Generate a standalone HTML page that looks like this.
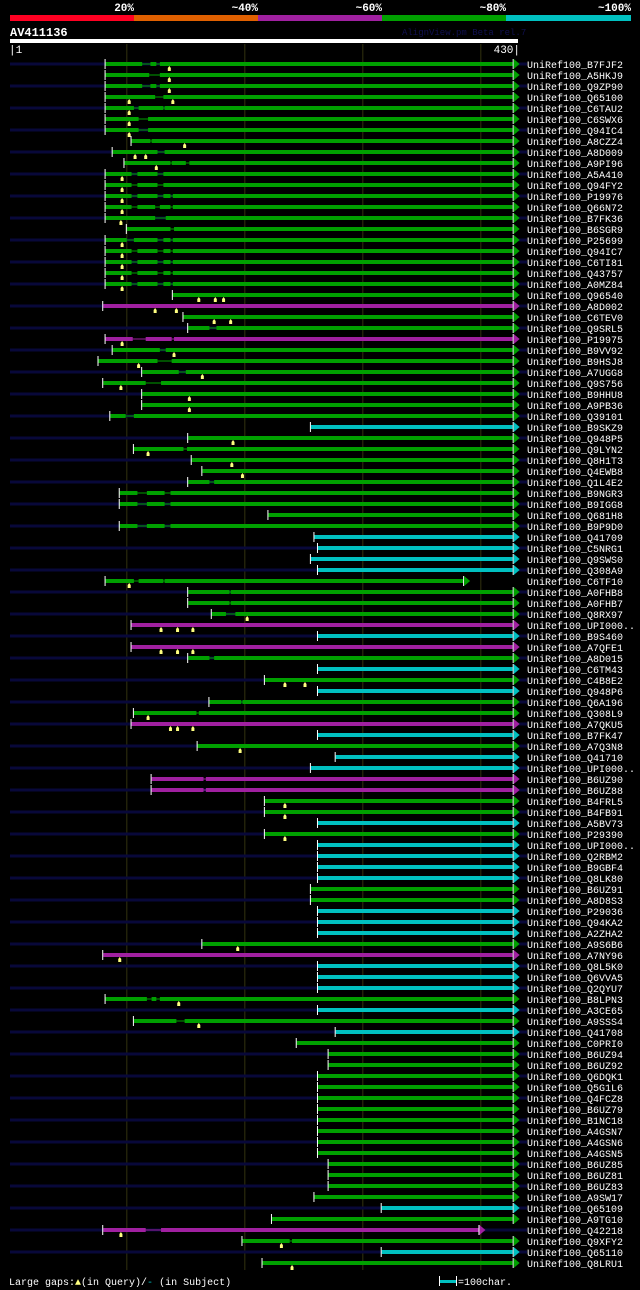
<!DOCTYPE html>
<html><head><meta charset="utf-8">
<style>
html,body{margin:0;padding:0;background:#000;}
svg{display:block;}
text{font-family:"Liberation Mono",monospace;}
</style></head>
<body>
<svg id="chart" width="640" height="1290" viewBox="0 0 640 1290" xmlns="http://www.w3.org/2000/svg">
<rect x="0" y="0" width="640" height="1290" fill="#000"/>
<g>
<rect x="10" y="15" width="124" height="6" fill="#ff0022"/>
<rect x="134" y="15" width="124" height="6" fill="#e06000"/>
<rect x="258" y="15" width="124" height="6" fill="#a020a0"/>
<rect x="382" y="15" width="124" height="6" fill="#00a000"/>
<rect x="506" y="15" width="125" height="6" fill="#00c0c0"/>
<g font-size="11" font-weight="bold" fill="#fff" text-anchor="end">
<text x="134" y="11">20%</text>
<text x="258" y="11">~40%</text>
<text x="382" y="11">~60%</text>
<text x="506" y="11">~80%</text>
<text x="631" y="11">~100%</text>
</g>
</g>
<text x="10" y="36" font-size="12" font-weight="bold" fill="#fff">AV411136</text>
<text x="402" y="35" font-size="9" fill="#101050">AlignView.pm Beta rel.7</text>
<rect x="10" y="39" width="508" height="4" fill="#fff"/>
<text x="9" y="53" font-size="11" fill="#fff">|1</text>
<text x="520" y="53" font-size="11" fill="#fff" text-anchor="end">430|</text>
<g id="grid"></g>
<g id="rows"></g>
<text x="9" y="1285" font-size="10" fill="#fff">Large gaps:<tspan fill="#ffff80">▲</tspan>(in Query)/<tspan fill="#00c0c0">-</tspan> (in Subject)</text>
<g>
<rect x="439" y="1280" width="17" height="3" fill="#00c0c0"/>
<rect x="439" y="1276" width="1" height="10" fill="#fff"/>
<rect x="456" y="1276" width="1" height="10" fill="#fff"/>
<text x="458" y="1285" font-size="10" fill="#fff">=100char.</text>
</g>
</svg>
<script>
const labels=["B7FJF2","A5HKJ9","Q9ZP90","Q65100","C6TAU2","C6SWX6","Q94IC4","A8CZZ4","A8D009","A9PI96","A5A410","Q94FY2","P19976","Q66N72","B7FK36","B6SGR9","P25699","Q94IC7","C6TI81","Q43757","A0MZ84","Q96540","A8D002","C6TEV0","Q9SRL5","P19975","B9VV92","B9HSJ8","A7UGG8","Q9S756","B9HHU8","A9PB36","Q39101","B9SKZ9","Q948P5","Q9LYN2","Q8H1T3","Q4EWB8","Q1L4E2","B9NGR3","B9IGG8","Q681H8","B9P9D0","Q41709","C5NRG1","Q9SWS0","Q308A9","C6TF10","A0FHB8","A0FHB7","Q8RX97","UPI000..","B9S460","A7QFE1","A8D015","C6TM43","C4B8E2","Q948P6","Q6A196","Q308L9","A7QKU5","B7FK47","A7Q3N8","Q41710","UPI000..","B6UZ90","B6UZ88","B4FRL5","B4FB91","A5BV73","P29390","UPI000..","Q2RBM2","B9GBF4","Q8LK80","B6UZ91","A8D8S3","P29036","Q94KA2","A2ZHA2","A9S6B6","A7NY96","Q8L5K0","Q6VVA5","Q2QYU7","B8LPN3","A3CE65","A9SSS4","Q41708","C0PRI0","B6UZ94","B6UZ92","Q6DQK1","Q5G1L6","Q4FCZ8","B6UZ79","B1NC18","A4GSN7","A4GSN6","A4GSN5","B6UZ85","B6UZ81","B6UZ83","A9SW17","Q65109","A9TG10","Q42218","Q9XFY2","Q65110","Q8LRU1"];
const starts=[82,82,82,82,82,82,82,104,88,98,82,82,82,82,82,100,82,82,82,82,82,139,80,148,152,82,88,76,113,80,113,113,86,256,152,106,155,164,152,94,94,220,94,259,262,256,262,82,152,152,172,104,262,104,152,262,217,262,170,106,104,262,160,277,256,121,121,217,217,262,217,262,262,262,262,256,256,262,262,262,164,80,262,262,262,82,262,106,277,244,271,271,262,262,262,262,262,262,262,262,271,271,271,259,316,223,80,198,316,215];
const ends=labels.map((_,i)=>i===47?385:(i===106?398:427));
const colors=[
 "gggggggggggggggggggggg",
 "mggm","ggggggg","c",
 "ggggggggg","cccc","gggg",
 "mcmgcgcggmcgccmmggcg",
 "cccc","gg","ccc","gm","ccc","gcgc",
 "ggggggggggggggg","cgmgcg"
].join("").split("");
const gaps=[[[113,120],[125,128]],[[119,128]],[[113,120],[125,128]],[[124,131]],[[106,110],[131,132]],[[110,118]],[[110,118]],[[120,121]],[[126,132]],[[137,138],[150,153]],[[104,109],[126,131]],[[104,109],[126,131]],[[104,109],[126,131],[137,139]],[[104,109],[124,128],[137,139]],[[124,133]],[[137,140]],[[100,106],[126,131],[137,139]],[[104,109],[126,131],[137,139]],[[104,109],[126,131],[137,139]],[[104,109],[126,131],[137,139]],[[104,109],[126,131],[137,139]],[],[],[],[[170,176]],[[105,116],[138,140]],[[128,133]],[[126,138]],[[144,150]],[[116,129]],[],[],[[99,106]],[],[],[[148,151]],[],[],[[170,174]],[[109,117],[132,137]],[[109,117],[132,137]],[],[[109,117],[132,137]],[],[],[],[],[[106,110],[131,132]],[[187,188]],[[187,188]],[[184,192]],[],[],[],[[170,174]],[],[],[],[[197,198]],[[159,161]],[],[],[],[],[],[[165,167]],[[165,167]],[],[],[],[],[],[],[],[],[],[],[],[],[],[],[],[],[],[],[[117,121],[125,128]],[],[[142,149]],
[],[],[],[],[],[],[],[],[],[],[],[],[],[],[],[],[],[],
[[116,129]],[[238,240]],[],[]];
const tris=[[136],[136],[136],[102,139],[102],[102],[102],[149],[107,116],[125],[96],[96],[96],[96],[95],[],[96],[96],[96],[96],[96],[161,175,182],[124,142],[174,188],[],[96],[140],[110],[164],[95],[153],[153],[],[],[190],[118],[189],[198],[],[],[],[],[],[],[],[],[],[102],[],[],[202],[129,143,156],[],[129,143,156],[],[],[234,251],[],[],[118],[137,143,156],[],[196],[],[],[],[],[234],[234],[],[234],[],[],[],[],[],[],[],[],[],[194],[94],[],[],[],[144],[],[161],[],[],[],[],[],[],[],[],[],[],[],[],[],[],[],[],[],[],[95],[231],[],[240]];
const gridTicks=[100,200,300,400];

const NS="http://www.w3.org/2000/svg";
const X=p=>10+(p-1)*1.18;
const Y=i=>64+i*11;
const COL={g:"#00a000",c:"#00c0c0",m:"#a020a0"};
function mk(tag,attrs,parent){const e=document.createElementNS(NS,tag);for(const k in attrs)e.setAttribute(k,attrs[k]);parent.appendChild(e);return e;}
const grid=document.getElementById("grid"),rows=document.getElementById("rows");
gridTicks.forEach(t=>{
  const l=mk("rect",{x:X(t)-0.5,y:44,width:1,height:1226,fill:"#333310"},grid);
  
  
});
labels.forEach((lab,i)=>{
  const y=Y(i);
  const g=mk("g",{},rows);
  
  
  if(i%2===0){const n=mk("rect",{x:10,y:y-1.5,width:517,height:3,fill:"#08083a"},g);
    
    }
  const c=COL[colors[i]]||COL.g;
  const x0=X(starts[i]),x1=X(ends[i]);
  mk("rect",{x:x0,y:y-0.5,width:x1-x0,height:1,fill:c},g);
  let segs=[],cur=starts[i];
  (gaps[i]||[]).forEach(gp=>{if(gp[0]>cur){segs.push([cur,gp[0]]);cur=gp[1];}});
  segs.push([cur,ends[i]]);
  segs.forEach(s=>{const r=mk("rect",{x:X(s[0]),y:y-2,width:Math.max(0,X(s[1])-X(s[0])),height:4,fill:c},g);
    
    });
  const st=mk("rect",{x:x0-1,y:y-5,width:1,height:10,fill:"#fff"},g);
  
  
  mk("rect",{x:x1,y:y-5,width:1,height:10,fill:"#fff"},g);
  const ar=mk("polygon",{points:`${x1+1},${y-5} ${x1+7},${y} ${x1+1},${y+5}`,fill:c},g);
  
  
  (tris[i]||[]).forEach(t=>{const tx=X(t);
    const m=mk("polygon",{points:`${tx},${y+2} ${tx+1.5},${y+4} ${tx+1.5},${y+7} ${tx-1.5},${y+7} ${tx-1.5},${y+4}`,fill:"#ffff80"},g);
    
    });
  const tx=mk("text",{x:527,y:y+4,"font-size":"10",fill:"#fff"},g);
  tx.textContent="UniRef100_"+lab;
  
  
});
</script>
</body></html>
